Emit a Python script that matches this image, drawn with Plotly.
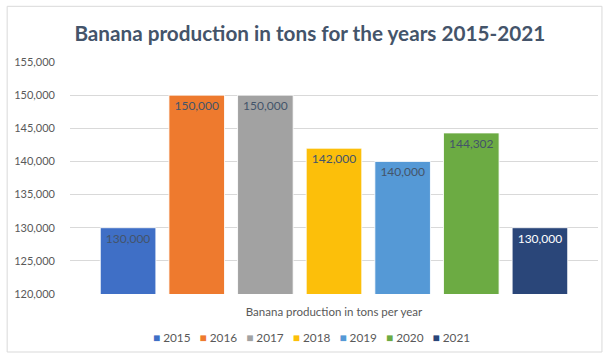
import plotly.graph_objects as go

# Banana production per year (tons)
years = ["2015", "2016", "2017", "2018", "2019", "2020", "2021"]
production = [130000, 150000, 150000, 142000, 140000, 144302, 130000]
bar_colors = ["#3f6fc6", "#ee7a2e", "#a2a2a2", "#fcbf0a", "#5599d6", "#6cab43", "#2a4679"]
label_colors = ["#44546a", "#44546a", "#44546a", "#44546a", "#44546a", "#44546a", "#ffffff"]
category = "Banana production in tons per year"
y_ticks = [120000, 125000, 130000, 135000, 140000, 145000, 150000, 155000]

FONT = "Lato"

fig = go.Figure()
for yr, val, col, lc in zip(years, production, bar_colors, label_colors):
    fig.add_trace(go.Bar(
        name=yr,
        x=[category],
        y=[val],
        base=0,
        marker=dict(color=col, line=dict(color="rgba(255,255,255,0.85)", width=1)),
        text=[f"{val:,}"],
        textposition="inside",
        insidetextanchor="end",
        textfont=dict(family=FONT, size=12, color=lc),
        constraintext="none",
        cliponaxis=True,
        showlegend=False,
    ))

# Compact legend row drawn as a single text line
legend_html = "&nbsp;&nbsp;&nbsp;".join(
    f"<span style='color:{c}'>■</span> {y}" for y, c in zip(years, bar_colors)
)

fig.update_layout(
    width=605,
    height=354,
    margin=dict(l=70, r=7, t=62, b=60),
    paper_bgcolor="white",
    plot_bgcolor="white",
    barmode="group",
    bargap=0.09,
    bargroupgap=0.19,
    title=dict(
        text="<b>Banana production in tons for the years 2015-2021</b>",
        x=0.512,
        xanchor="center",
        y=0.905,
        yanchor="middle",
        font=dict(family=FONT, size=20.7, color="#44546a"),
    ),
    xaxis=dict(
        type="category",
        showgrid=False,
        showline=False,
        ticks="",
        tickfont=dict(family=FONT, size=11.5, color="#595959"),
        ticklabelstandoff=9,
    ),
    yaxis=dict(
        range=[120000, 155000],
        tickvals=y_ticks,
        tickformat=",d",
        showgrid=True,
        gridcolor="#d9d9d9",
        gridwidth=1,
        zeroline=False,
        showline=False,
        ticks="",
        tickfont=dict(family=FONT, size=11, color="#595959"),
        ticklabelstandoff=14,
    ),
    annotations=[
        dict(
            text=legend_html,
            xref="paper", yref="paper",
            x=0.458, y=-0.188,
            xanchor="center", yanchor="middle",
            showarrow=False,
            font=dict(family=FONT, size=11.8, color="#595959"),
        )
    ],
    shapes=[
        dict(
            type="rect",
            xref="paper", yref="paper",
            x0=-0.119, x1=1.0075, y0=-0.25, y1=1.24,
            line=dict(color="#d9d9d9", width=1),
            fillcolor="rgba(0,0,0,0)",
            layer="below",
        )
    ],
)

fig.write_html("out.html")
